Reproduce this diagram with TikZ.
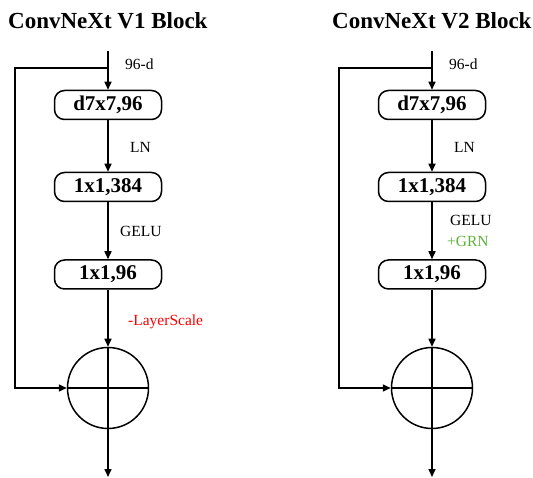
\documentclass[tikz,border=0pt]{standalone}
\usepackage{fontspec}
\setmainfont{Liberation Serif}
\usetikzlibrary{arrows.meta}
\definecolor{grn}{RGB}{92,178,58}
\begin{document}
\begin{tikzpicture}[x=1pt,y=-1pt,
  conn/.style={line width=1.5pt},
  arr/.style={conn,-{Triangle[length=8pt,width=7pt]}},
  blk/.style={draw,line width=1.5pt,rounded corners=10pt,minimum width=107pt,minimum height=29pt,inner sep=0pt,font=\fontsize{21}{23}\selectfont\bfseries},
  sumc/.style={draw,circle,line width=1.5pt,minimum size=81pt,inner sep=0pt},
  lbl/.style={font=\fontsize{15.5}{17}\selectfont,anchor=west,inner sep=0pt},
  ttl/.style={font=\fontsize{23}{25}\selectfont\bfseries,anchor=west,inner sep=0pt}]
\useasboundingbox (0,0) rectangle (533,478);
% ---------- V1 ----------
\node[ttl] (t1) at (8,21) {ConvNeXt V1 Block};
\coordinate (s1) at (108,51);
\coordinate (r1) at (108,68);
\coordinate (k1) at (15,68);
\coordinate (o1) at (108,477);
\node[blk] (a1) at (108,105) {d7x7,96};
\node[blk] (b1) at (108,187) {1x1,384};
\node[blk] (c1) at (108,274.5) {1x1,96};
\node[sumc] (p1) at (108,388) {};
\node[lbl] (l1a) at (125,64) {96-d};
\node[lbl] (l1b) at (130,147) {LN};
\node[lbl] (l1c) at (120,231) {GELU};
\node[lbl,red] (l1d) at (128,322) {-LayerScale};
\draw[arr] (s1) -- (a1.north);
\draw[arr] (a1.south) -- (b1.north);
\draw[arr] (b1.south) -- (c1.north);
\draw[arr] (c1.south) -- (p1.north);
\draw[conn] (p1.north) -- (p1.south);
\draw[conn] (p1.west) -- (p1.east);
\draw[arr] (p1.south) -- (o1);
\draw[arr] (r1) -- (k1) |- (p1.west);
% ---------- V2 ----------
\node[ttl] (t2) at (332,21) {ConvNeXt V2 Block};
\coordinate (s2) at (432,51);
\coordinate (r2) at (432,68);
\coordinate (k2) at (339,68);
\coordinate (o2) at (432,477);
\node[blk] (a2) at (432,105) {d7x7,96};
\node[blk] (b2) at (432,187) {1x1,384};
\node[blk] (c2) at (432,274.5) {1x1,96};
\node[sumc] (p2) at (432,388) {};
\node[lbl] (l2a) at (449,64) {96-d};
\node[lbl] (l2b) at (454,147) {LN};
\node[lbl] (l2c) at (450,220) {GELU};
\node[lbl,text=grn] (l2d) at (447,241) {+GRN};
\draw[arr] (s2) -- (a2.north);
\draw[arr] (a2.south) -- (b2.north);
\draw[arr] (b2.south) -- (c2.north);
\draw[arr] (c2.south) -- (p2.north);
\draw[conn] (p2.north) -- (p2.south);
\draw[conn] (p2.west) -- (p2.east);
\draw[arr] (p2.south) -- (o2);
\draw[arr] (r2) -- (k2) |- (p2.west);
\end{tikzpicture}
\end{document}
